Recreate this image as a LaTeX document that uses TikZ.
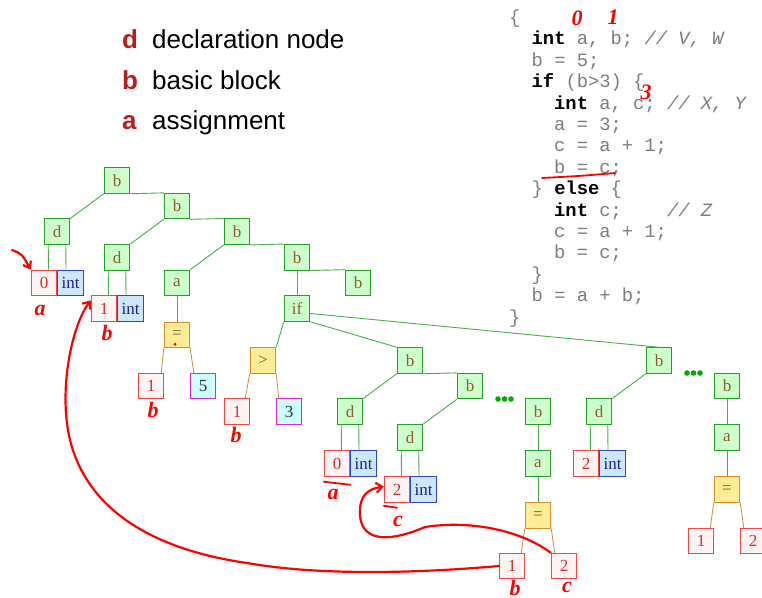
\documentclass[tikz,border=0pt]{standalone}
\usepackage{fontspec}
\setmainfont{Liberation Serif}
\setsansfont{Liberation Sans}
\setmonofont{Liberation Mono}
\usetikzlibrary{positioning,arrows.meta}

\definecolor{blkfill}{RGB}{204,255,204}
\definecolor{blkline}{RGB}{40,160,40}
\definecolor{blktext}{RGB}{140,95,45}
\definecolor{numfill}{RGB}{255,244,244}
\definecolor{numline}{RGB}{245,70,70}
\definecolor{numtext}{RGB}{215,45,45}
\definecolor{tyfill}{RGB}{204,232,255}
\definecolor{tyline}{RGB}{50,70,200}
\definecolor{tytext}{RGB}{30,30,150}
\definecolor{opfill}{RGB}{255,236,150}
\definecolor{opline}{RGB}{215,140,45}
\definecolor{optext}{RGB}{110,95,60}
\definecolor{cstfill}{RGB}{204,255,255}
\definecolor{cstline}{RGB}{215,40,215}
\definecolor{treeline}{RGB}{70,175,70}
\definecolor{opedge}{RGB}{205,140,60}
\definecolor{keyred}{RGB}{185,30,30}
\definecolor{codegray}{RGB}{125,125,125}
\definecolor{penred}{RGB}{255,0,0}
\definecolor{dotgreen}{RGB}{0,170,0}

\newcommand{\kwd}[1]{\textcolor{black}{\bfseries #1}}
\newcommand{\cmt}[1]{{\itshape #1}}

\begin{document}
\begin{tikzpicture}[x=1pt, y=-1pt,
    box/.style={minimum size=25.6pt, inner sep=0pt, line width=0.9pt,
        font=\fontsize{17}{17}\selectfont},
    blk/.style={box, draw=blkline, fill=blkfill, text=blktext},
    num/.style={box, draw=numline, fill=numfill, text=numtext},
    ty/.style={box, draw=tyline, fill=tyfill, text=tytext},
    op/.style={box, draw=opline, fill=opfill, text=optext},
    cst/.style={box, draw=cstline, fill=cstfill, text=black!80},
    link/.style={draw=treeline, line width=0.9pt},
    oplink/.style={draw=opedge, line width=0.8pt},
    ink/.style={draw=penred, line width=2.2pt, line cap=round, line join=round},
    hand/.style={text=penred, inner sep=0pt, font=\fontsize{22}{22}\selectfont\itshape\bfseries},
    code/.style={anchor=base west, inner sep=0pt, text=codegray,
        font=\fontsize{18.8}{18.8}\selectfont\ttfamily},
    legend/.style={anchor=base west, inner sep=0pt, font=\fontsize{26}{26}\selectfont\sffamily}]
    \useasboundingbox (0,0) rectangle (762,597);
    \clip (0,0) rectangle (762,597);

    % legend
    \node[legend, text=keyred, font=\fontsize{26}{26}\selectfont\sffamily\bfseries] (kd) at (122,48) {d};
    \node[legend] (ld) at (152,48) {declaration node};
    \node[legend, text=keyred, font=\fontsize{26}{26}\selectfont\sffamily\bfseries] (kb) at (122,89) {b};
    \node[legend] (lb) at (152,89) {basic block};
    \node[legend, text=keyred, font=\fontsize{26}{26}\selectfont\sffamily\bfseries] (ka) at (122,129) {a};
    \node[legend] (la) at (152,129) {assignment};

    % source
    \node[code] (s1) at (509,23.5) {\{};
    \node[code] (s2) at (531.5,44.9) {\kwd{int} a, b; \cmt{// V, W}};
    \node[code] (s3) at (531.5,66.3) {b = 5;};
    \node[code] (s4) at (531.5,87.7) {\kwd{if} (b>3) \{};
    \node[code] (s5) at (554,109.1) {\kwd{int} a, c; \cmt{// X, Y}};
    \node[code] (s6) at (554,130.5) {a = 3;};
    \node[code] (s7) at (554,151.9) {c = a + 1;};
    \node[code] (s8) at (554,173.3) {b = c;};
    \node[code] (s9) at (531.5,194.7) {\} \kwd{else} \{};
    \node[code] (s10) at (554,216.1) {\kwd{int} c;~~~~\cmt{// Z}};
    \node[code] (s11) at (554,237.5) {c = a + 1;};
    \node[code] (s12) at (554,258.9) {b = c;};
    \node[code] (s13) at (531.5,280.3) {\}};
    \node[code] (s14) at (531.5,301.7) {b = a + b;};
    \node[code] (s15) at (509,323.1) {\}};

    % outer block
    \node[blk] (b1) at (117,180.5) {b};
    \node[blk] (b2) at (177,206.1) {b};
    \node[blk] (b3) at (237,231.7) {b};
    \node[blk] (b4) at (297,257.3) {b};
    \node[blk] (b5) at (358,282.9) {b};
    \node[blk] (d1) at (57,231.7) {d};
    \node[num] (v0) at (44,282.9) {0};
    \node[ty, right=0pt of v0] (t0) {int};
    \node[blk] (d2) at (117,257.3) {d};
    \node[num] (v1) at (104,308.5) {1};
    \node[ty, right=0pt of v1] (t1) {int};
    \node[blk] (a1) at (177,282.9) {a};
    \node[op] (eq1) at (177,335) {=};
    \node[num] (n1) at (151,386) {1};
    \node[cst] (c5) at (203,386) {5};

    % if statement
    \node[blk] (iff) at (297,308.5) {if};
    \node[op] (gt) at (263,360.5) {>};
    \node[num] (n3) at (237,411.5) {1};
    \node[cst] (c3) at (289,411.5) {3};

    % then branch
    \node[blk] (b6) at (410,360.5) {b};
    \node[blk] (b8) at (470,386.1) {b};
    \node[blk] (d3) at (350,411.7) {d};
    \node[num] (v2) at (337,463.5) {0};
    \node[ty, right=0pt of v2] (t2) {int};
    \node[blk] (d4) at (410,437.3) {d};
    \node[num] (v3) at (397,489.5) {2};
    \node[ty, right=0pt of v3] (t3) {int};
    \node[blk] (b9) at (538,411.7) {b};
    \node[blk] (a2) at (538,463.5) {a};
    \node[op] (eq2) at (538,515.5) {=};
    \node[num] (l1) at (512,566) {1};
    \node[num] (l2) at (564,566) {2};

    % else branch
    \node[blk] (b7) at (659,360.5) {b};
    \node[blk] (d5) at (599,411.7) {d};
    \node[num] (v4) at (586,463.5) {2};
    \node[ty, right=0pt of v4] (t4) {int};
    \node[blk] (b10) at (727,386.1) {b};
    \node[blk] (a3) at (727,437.7) {a};
    \node[op] (eq3) at (727,489.5) {=};
    \node[num] (r1) at (701,541) {1};
    \node[num] (r2) at (753,541) {2};

    \draw[link] (b1.south west) -- (d1.north east);
    \draw[link] (b1.south east) -- (b2.north west);
    \draw[link] (b2.south west) -- (d2.north east);
    \draw[link] (b2.south east) -- (b3.north west);
    \draw[link] (b3.south west) -- (a1.north east);
    \draw[link] (b3.south east) -- (b4.north west);
    \draw[link] (b4.south east) -- (b5.north west);
    \draw[link] (b4) -- (iff);
    \draw[link] (a1) -- (eq1);
    \draw[link] ([xshift=4.5pt]d1.south west) -- ([xshift=4.5pt]v0.north);
    \draw[link] ([xshift=-4.5pt]d1.south east) -- ([xshift=-4.5pt]t0.north);
    \draw[link] ([xshift=4.5pt]d2.south west) -- ([xshift=4.5pt]v1.north);
    \draw[link] ([xshift=-4.5pt]d2.south east) -- ([xshift=-4.5pt]t1.north);
    \draw[oplink] (eq1.south west) -- ([xshift=-3pt]n1.north east);
    \draw[oplink] (eq1.south east) -- ([xshift=4pt]c5.north west);

    \draw[link] (iff.south west) -- (gt.north east);
    \draw[link] (iff.south east) -- (b6.north west);
    \draw[link] ([yshift=-5pt]iff.east) -- (b7.north);
    \draw[oplink] (gt.south west) -- ([xshift=-5pt]n3.north east);
    \draw[oplink] (gt.south east) -- ([xshift=3pt]c3.north west);

    \draw[link] (b6.south west) -- (d3.north east);
    \draw[link] (b6.south east) -- (b8.north west);
    \draw[link] (b8.south west) -- (d4.north east);
    \draw[link] ([xshift=4.5pt]d3.south west) -- ([xshift=4.5pt]v2.north);
    \draw[link] ([xshift=-4.5pt]d3.south east) -- ([xshift=-4.5pt]t2.north);
    \draw[link] ([xshift=4.5pt]d4.south west) -- ([xshift=4.5pt]v3.north);
    \draw[link] ([xshift=-4.5pt]d4.south east) -- ([xshift=-4.5pt]t3.north);
    \draw[link] (b9) -- (a2);
    \draw[link] (a2) -- (eq2);
    \draw[oplink] (eq2.south west) -- ([xshift=-4pt]l1.north east);
    \draw[oplink] (eq2.south east) -- ([xshift=4pt]l2.north west);

    \draw[link] (b7.south west) -- (d5.north east);
    \draw[link] ([xshift=4.5pt]d5.south west) -- ([xshift=4.5pt]v4.north);
    \draw[link] ([xshift=-4.5pt]d5.south east) -- ([xshift=-4.5pt]t4.north);
    \draw[link] (b10) -- (a3);
    \draw[link] (a3) -- (eq3);
    \draw[oplink] (eq3.south west) -- ([xshift=-4pt]r1.north east);
    \draw[oplink] (eq3.south east) -- ([xshift=4pt]r2.north west);

    % elided blocks
    \fill[dotgreen] (498,399) circle (2.8pt) (504.5,399) circle (2.8pt) (511,399) circle (2.8pt);
    \fill[dotgreen] (687,373) circle (2.8pt) (693.5,373) circle (2.8pt) (700,373) circle (2.8pt);

    % pen marks
    \node[hand] (h0) at (577,18) {0};
    \node[hand] (h1) at (613,17) {1};
    \node[hand] (h3) at (646,92) {3};
    \draw[ink, line width=1.8pt] (542,178) .. controls (580,176) .. (615,173);

    \coordinate (pen0) at (12,250);
    \draw[ink, -{Straight Barb[length=6pt,width=9pt]}] (pen0) .. controls (22,254) .. (v0.north west);
    \node[hand] (ha1) at (40,310) {a};
    \node[hand] (hb1) at (107,333) {b};
    \node[hand] (hb2) at (153,410) {b};
    \node[hand] (hb3) at (236,435) {b};
    \node[hand] (ha2) at (333,494) {a};
    \draw[ink, line width=1.8pt] ([yshift=-5pt]v2.south west) -- ([yshift=-8pt]v2.south east);
    \node[hand] (hc1) at (398,521) {c};
    \draw[ink, line width=1.8pt] ([yshift=-3pt]v3.south west) -- ([yshift=-5pt]v3.south);
    \node[hand] (hb4) at (515,588) {b};
    \node[hand] (hc2) at (567,587) {c};
    \fill[penred] (eq1.south) ++(-2,-4) circle (1.6pt);

    \draw[ink, -{Straight Barb[length=6pt,width=10pt]}] (l1.west)
        .. controls (420,573) and (320,576) .. (247,563)
        .. controls (170,552) and (90,520) .. (70,440)
        .. controls (58,390) and (72,325) .. ([yshift=8pt]v1.west);
    \draw[ink, -{Straight Barb[length=6pt,width=10pt]}] (l2.north west)
        .. controls (520,530) and (470,520) .. (425,527)
        .. controls (395,540) and (362,545) .. (360,515)
        .. controls (359,495) and (368,489) .. ([yshift=3pt]v3.west);
\end{tikzpicture}
\end{document}
